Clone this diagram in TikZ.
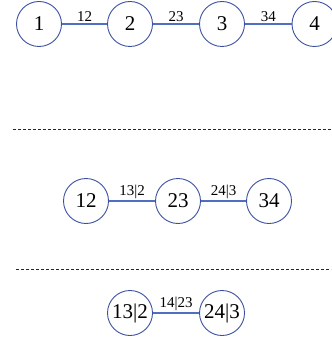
\documentclass[tikz,border=0pt]{standalone}
\usepackage{fontspec}
\setmainfont{Liberation Serif}
\definecolor{ringblue}{RGB}{60,80,160}
\definecolor{edgeblue}{RGB}{80,110,195}
\begin{document}
\begin{tikzpicture}[x=1pt,y=-1pt,
  vtx/.style={circle,draw=ringblue,line width=0.9pt,minimum size=45pt,inner sep=0pt,font=\fontsize{21}{21}\selectfont},
  edg/.style={color=edgeblue,line width=1.1pt},
  lbl/.style={above,inner sep=1.5pt,text=black,font=\fontsize{15}{15}\selectfont},
  sep/.style={dash pattern=on 3pt off 2pt,line width=0.8pt,black!85}]
\useasboundingbox (0,0) rectangle (331,339);
% top row
\node[vtx] (a1) at (39,24) {1};
\node[vtx] (a2) at (130,24) {2};
\node[vtx] (a3) at (222,24) {3};
\node[vtx] (a4) at (314.5,24) {4};
\draw[edg] (a1) -- node[lbl] {12} (a2);
\draw[edg] (a2) -- node[lbl] {23} (a3);
\draw[edg] (a3) -- node[lbl] {34} (a4);
% separator 1
\coordinate (s1a) at (13,129);
\coordinate (s1b) at (331,129);
\draw[sep] (s1a) -- (s1b);
% middle row
\node[vtx] (b1) at (86,201) {12};
\node[vtx] (b2) at (178,201) {23};
\node[vtx] (b3) at (269,201) {34};
\draw[edg] (b1) -- node[lbl] {13|2} (b2);
\draw[edg] (b2) -- node[lbl] {24|3} (b3);
% separator 2
\coordinate (s2a) at (16,269);
\coordinate (s2b) at (331,269);
\draw[sep] (s2a) -- (s2b);
% bottom row
\node[vtx] (c1) at (130,313) {13|2};
\node[vtx] (c2) at (222,313) {24|3};
\draw[edg] (c1) -- node[lbl] {14|23} (c2);
\end{tikzpicture}
\end{document}
